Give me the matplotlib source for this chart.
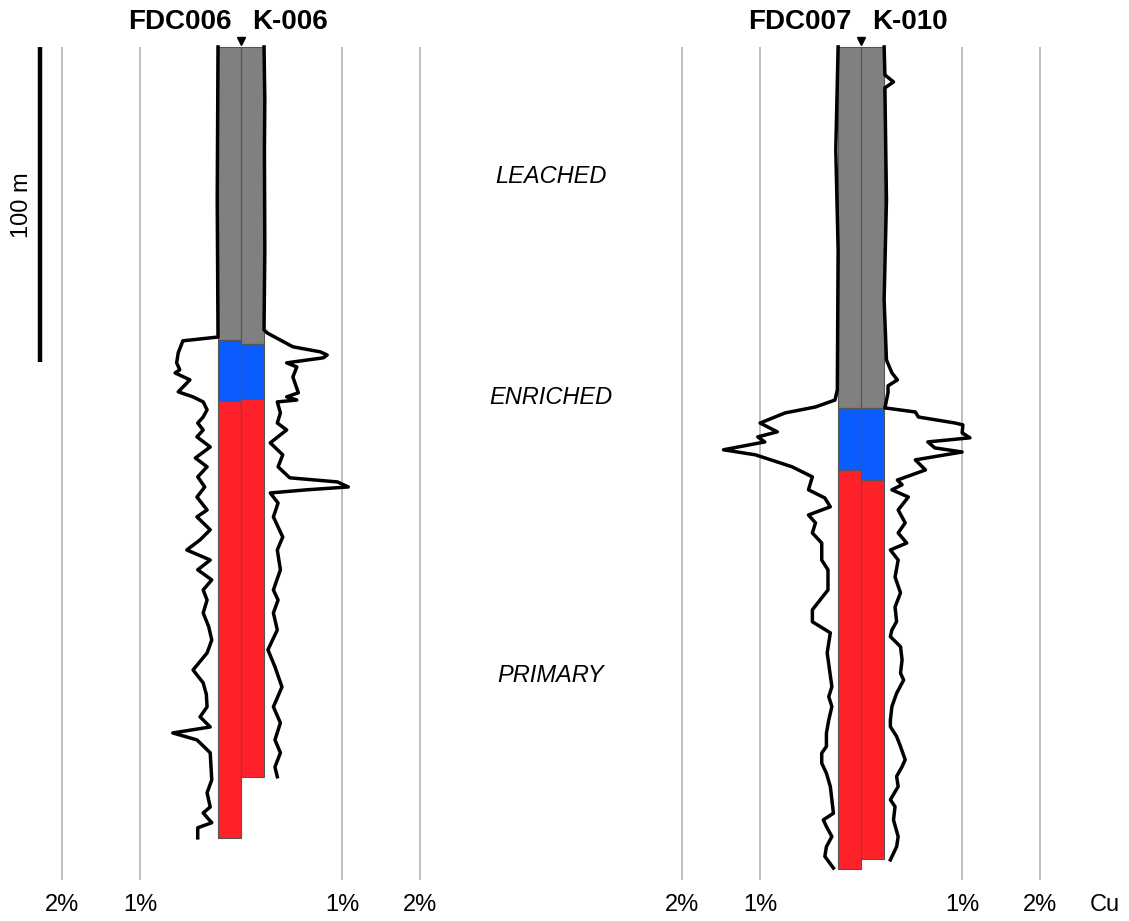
import matplotlib.pyplot as plt
import numpy as np

plt.rcParams['font.family'] = ['Liberation Sans', 'DejaVu Sans']

# zone intervals per hole: (leached bottom, enriched bottom, hole bottom), metres
holes = ['FDC006', 'K-006', 'FDC007', 'K-010']
leached_bot = [93.0, 94.3, 114.6, 114.6]
enriched_bot = [112.4, 111.7, 134.3, 137.5]
hole_bot = [251.1, 231.7, 261.0, 257.8]

# Cu assays (%) down each hole
fdc006_depth = [0, 48.6, 92.1, 93.3, 97.1, 100.3, 102.5, 103.5, 105.7, 109.5, 111.1, 112.7,
                115.2, 117.5, 119.4, 121.6, 123.8, 127.0, 130.5, 133.3, 136.5, 139.7, 142.9,
                147.0, 149.2, 153.3, 156.5, 159.7, 162.9, 166.0, 169.2, 172.4, 175.6, 179.7,
                184.0, 188.3, 192.4, 197.8, 201.9, 205.5, 209.5, 212.7, 215.9, 217.8, 220.0,
                224.1, 228.5, 232.7, 236.8, 241.3, 243.2, 246.3, 247.9, 251.1]
fdc006_cu = [0.0, 0.01, 0.0, 0.45, 0.51, 0.53, 0.49, 0.55, 0.36, 0.51, 0.32, 0.19,
             0.14, 0.19, 0.26, 0.19, 0.27, 0.10, 0.29, 0.14, 0.26, 0.17, 0.27,
             0.14, 0.27, 0.10, 0.23, 0.40, 0.10, 0.26, 0.08, 0.19, 0.14, 0.19,
             0.12, 0.08, 0.14, 0.32, 0.19, 0.15, 0.14, 0.23, 0.10, 0.58, 0.27,
             0.10, 0.09, 0.08, 0.14, 0.10, 0.19, 0.08, 0.26, 0.26]

k006_depth = [0, 16.8, 32.7, 64.4, 89.8, 90.8, 95.2, 96.8, 97.8, 98.7, 100.3, 101.6, 104.8,
              109.8, 111.1, 112.1, 112.7, 116.2, 119.4, 121.6, 125.7, 129.5, 133.3, 136.8,
              138.1, 139.7, 140.6, 141.6, 144.8, 149.2, 155.6, 159.7, 166.0, 172.4, 175.6,
              179.7, 185.1, 191.4, 196.8, 203.2, 209.5, 214.6, 220.0, 224.1, 228.6, 231.7]
k006_cu = [0.0, 0.01, 0.005, 0.01, 0.0, 0.04, 0.37, 0.72, 0.81, 0.76, 0.29, 0.42, 0.37,
           0.44, 0.29, 0.42, 0.17, 0.21, 0.17, 0.29, 0.08, 0.24, 0.18, 0.33,
           0.94, 1.08, 0.55, 0.08, 0.18, 0.12, 0.24, 0.17, 0.21, 0.12, 0.18,
           0.12, 0.17, 0.05, 0.14, 0.23, 0.12, 0.21, 0.14, 0.21, 0.14, 0.17]

fdc007_depth = [0, 32.7, 64.4, 108.9, 112.1, 114.3, 116.2, 119.4, 122.2, 123.8, 125.4, 127.9,
                129.5, 133.3, 136.5, 140.6, 143.2, 146.0, 148.6, 151.1, 154.3, 157.5, 162.9,
                166.0, 172.4, 178.7, 182.5, 186.0, 192.4, 203.1, 206.3, 209.4, 213.7, 217.9,
                222.1, 224.2, 227.4, 230.6, 234.8, 239.0, 243.3, 245.4, 247.5, 250.7, 253.9,
                257.0, 260.7]
fdc007_cu = [0.0, 0.03, 0.0, 0.01, 0.04, 0.29, 0.68, 1.00, 0.78, 1.03, 0.94, 1.47,
             1.06, 0.59, 0.33, 0.38, 0.17, 0.10, 0.38, 0.29, 0.33, 0.21, 0.21,
             0.13, 0.13, 0.33, 0.33, 0.10, 0.14, 0.08, 0.12, 0.08, 0.12, 0.15,
             0.15, 0.21, 0.21, 0.15, 0.10, 0.08, 0.06, 0.19, 0.15, 0.08, 0.15,
             0.17, 0.06]

k010_depth = [0, 8.9, 11.1, 13.0, 48.6, 80.3, 99.4, 103.5, 105.7, 107.6, 109.8, 114.6, 115.9,
              117.5, 119.4, 120.0, 122.5, 124.1, 125.4, 127.3, 128.6, 131.1, 134.3, 137.5,
              139.0, 140.6, 142.9, 147.0, 151.1, 154.3, 157.5, 159.7, 162.9, 168.3, 173.3,
              177.8, 182.4, 185.1, 187.2, 190.4, 194.6, 198.8, 201.0, 205.2, 209.4, 213.7,
              215.8, 218.9, 222.1, 226.3, 228.5, 231.6, 234.8, 239.0, 241.2, 245.4, 250.7,
              253.9, 258.1]
k010_cu = [0.0, 0.01, 0.12, 0.01, 0.03, 0.0, 0.03, 0.10, 0.17, 0.05, 0.05, 0.01, 0.40,
           0.44, 0.91, 1.01, 1.00, 1.10, 0.56, 0.65, 1.00, 0.40, 0.53, 0.17,
           0.23, 0.10, 0.31, 0.18, 0.27, 0.18, 0.29, 0.08, 0.18, 0.14, 0.21,
           0.14, 0.16, 0.10, 0.08, 0.21, 0.23, 0.21, 0.25, 0.16, 0.10, 0.08,
           0.08, 0.16, 0.21, 0.27, 0.23, 0.16, 0.18, 0.08, 0.14, 0.12, 0.18,
           0.16, 0.08]

zones = ['LEACHED', 'ENRICHED', 'PRIMARY']
zone_depth = [41.0, 111.4, 199.4]
grid_pct = [1, 2]

# layout (x in Cu-% units, y in metres)
pair_x = [3.09, 11.04]
col_w = 0.295
zone_colors = ['#808080', '#0a5cff', '#ff2129']

fig = plt.figure(figsize=(11.29, 9.21), dpi=100)
ax = fig.add_axes([0, 0, 1, 1])
ax.set_xlim(0, 1129 / 78)
ax.set_ylim(277.5, -14.9)
ax.axis('off')

profiles = [(fdc006_depth, fdc006_cu), (k006_depth, k006_cu),
            (fdc007_depth, fdc007_cu), (k010_depth, k010_cu)]

for p, c in enumerate(pair_x):
    # grid lines and % labels
    for g in grid_pct:
        for side in (-1, 1):
            gx = c + side * (col_w + g)
            ax.vlines(gx, 0, 264.4, color='#b4b4b4', lw=1.2, zorder=0)
            ax.text(gx, 272.4, f'{g}%', ha='center', va='center', fontsize=17)
    for k in range(2):
        i = 2 * p + k
        x0 = c - col_w if k == 0 else c
        tops = [0, leached_bot[i], enriched_bot[i]]
        bots = [leached_bot[i], enriched_bot[i], hole_bot[i]]
        for t, b, col in zip(tops, bots, zone_colors):
            ax.bar(x0, b - t, bottom=t, width=col_w, align='edge', color=col,
                   edgecolor='#555555', lw=0.8, zorder=2)
        d, cu = profiles[i]
        cu = np.array(cu)
        px = c - col_w - cu if k == 0 else c + col_w + cu
        ax.plot(px, d, color='black', lw=2.5, solid_joinstyle='round', zorder=3)
    ax.plot(c, -2.0, marker='v', ms=6, color='black', zorder=4)
    ax.text(c - 0.12, -7.9, holes[2 * p], ha='right', va='center',
            fontsize=20, fontweight='bold')
    ax.text(c + 0.14, -7.9, holes[2 * p + 1], ha='left', va='center',
            fontsize=20, fontweight='bold')

for z, zd in zip(zones, zone_depth):
    ax.text(551 / 78, zd, z, ha='center', va='center', fontsize=17, style='italic')

# 100 m scale bar
ax.vlines(40 / 78, 0, 100, color='black', lw=3.2)
ax.text(22 / 78, 50.2, '100 m', rotation=90, ha='center', va='center', fontsize=17)
ax.text(1105 / 78, 272.4, 'Cu', ha='center', va='center', fontsize=17)

plt.savefig('out.png', dpi=100)
